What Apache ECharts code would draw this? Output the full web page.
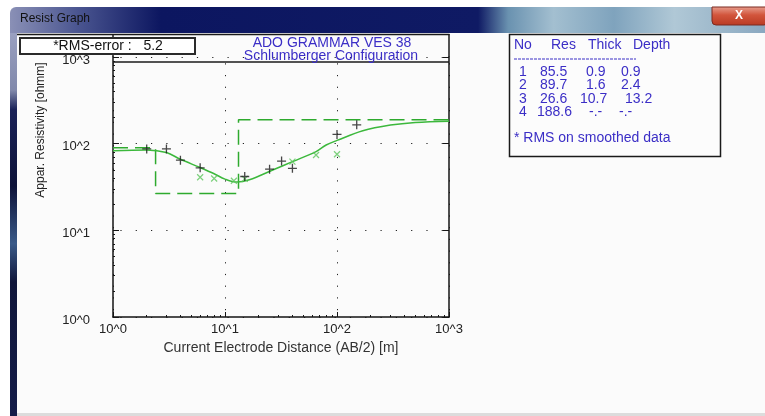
<!DOCTYPE html>
<html>
<head>
<meta charset="utf-8">
<title>Resist Graph</title>
<script src="https://cdn.jsdelivr.net/npm/echarts@6/dist/echarts.min.js"></script>
<style>
  html, body { margin: 0; padding: 0; background: #ffffff; }
  #chart { width: 765px; height: 416px; }
</style>
</head>
<body>
<div id="chart"></div>
<script>
// ---- sounding data (VES 38, Schlumberger) ----
const obsAB  = [2, 3, 4, 6, 15, 25, 32, 40, 100, 150];          // field points, AB/2 [m]
const obsRho = [87, 87, 64.5, 52.6, 41.8, 50.8, 63, 52, 128, 165]; // apparent resistivity [ohmm]

const smAB  = [6, 8, 12, 15, 40, 65, 100];                       // smoothed data, AB/2 [m]
const smRho = [41, 39.6, 37.3, 39.3, 62, 74, 75.5];

// computed response of the layered model
const curveAB  = [1, 2, 3, 4, 6, 8, 10, 12.8, 16.5, 27, 40, 65, 80, 100, 170, 300, 500, 1000];
const curveRho = [83, 84.7, 79, 66, 53, 45, 39, 36, 38.3, 50, 62, 81, 96.6, 109, 141, 164, 176, 182];

// layered model
const layerNo    = [1, 2, 3, 4];
const layerRes   = [85.5, 89.7, 26.6, 188.6];
const layerThick = [0.9, 1.6, 10.7, null];
const layerDepth = [0.9, 2.4, 13.2, null];
const rmsError   = 5.2;

// axis ticks
const decadeValues = [1, 10, 100, 1000];
const decadeLabels = ['10^0', '10^1', '10^2', '10^3'];
const minorValues  = [2, 3, 4, 5, 6, 7, 8, 9, 20, 30, 40, 50, 60, 70, 80, 90, 200, 300, 400, 500, 600, 700, 800, 900];

const titleLines = ['ADO GRAMMAR VES 38', 'Schlumberger Configuration'];
const xName = 'Current Electrode Distance (AB/2) [m]';
const yName = 'Appar. Resistivity [ohmm]';

const FONT = '"Liberation Sans", Arial, sans-serif';
const BLUE = '#3b2ec6';
const X_MIN = 1, X_MAX = 1000;

function decadeLabel(v) {
  const i = decadeValues.findIndex(d => Math.abs(d - v) / d < 1e-6);
  return i >= 0 ? decadeLabels[i] : '';
}
// y labels sit a little below their tick
function decadeLabelLow(v) {
  const t = decadeLabel(v);
  return t ? '{v|' + t + '}' : '';
}

// step outline of the model: one horizontal run per layer, clipped to the axis range
function modelSteps() {
  const pts = [];
  let top = 0;
  for (let i = 0; i < layerRes.length; i++) {
    const bottom = layerDepth[i] == null ? X_MAX : layerDepth[i];
    if (bottom > X_MIN) {
      pts.push([Math.max(top, X_MIN), layerRes[i]]);
      pts.push([Math.min(bottom, X_MAX), layerRes[i]]);
    }
    top = bottom;
  }
  return pts;
}

const zip = (a, b) => a.map((v, i) => [v, b[i]]);
const fmt = v => v == null ? '-.-' : String(v);

// ---- window chrome and text panels ----
const graphics = [
  // title bar
  { type: 'rect', z: -20, shape: { x: 10, y: 7, width: 755, height: 26, r: [6, 0, 0, 0] },
    style: { fill: new echarts.graphic.LinearGradient(0, 0, 1, 0, [
      { offset: 0, color: '#8a90b6' }, { offset: 0.09, color: '#4a5590' },
      { offset: 0.2, color: '#0c1660' }, { offset: 0.62, color: '#0f1a64' },
      { offset: 0.66, color: '#6a92b0' }, { offset: 0.72, color: '#a3bfd0' },
      { offset: 0.8, color: '#7fa3bd' }, { offset: 0.88, color: '#b0c8d6' },
      { offset: 1, color: '#8aa8c0' }]) } },
  { type: 'text', z: -19, style: { x: 20, y: 19, text: 'Resist Graph', font: '12px ' + FONT, fill: '#111', verticalAlign: 'middle' } },
  // close button
  { type: 'rect', z: -18, shape: { x: 712, y: 7, width: 56, height: 18, r: [0, 0, 4, 4] },
    style: { fill: new echarts.graphic.LinearGradient(0, 0, 0, 1, [
      { offset: 0, color: '#e8a090' }, { offset: 0.45, color: '#d2553c' }, { offset: 1, color: '#b93a22' }]),
      stroke: '#7a2a20', lineWidth: 1 } },
  { type: 'text', z: -17, style: { x: 739, y: 16, text: 'X', font: 'bold 12px ' + FONT, fill: '#ffffff', align: 'center', verticalAlign: 'middle' } },
  // left frame
  { type: 'rect', z: -20, shape: { x: 10, y: 33, width: 7, height: 383 },
    style: { fill: new echarts.graphic.LinearGradient(0, 0, 0, 1, [
      { offset: 0, color: '#9aa0c0' }, { offset: 0.15, color: '#8088aa' }, { offset: 0.2, color: '#1a2258' },
      { offset: 0.4, color: '#0d1238' }, { offset: 0.55, color: '#3a5a88' }, { offset: 0.65, color: '#10163a' },
      { offset: 1, color: '#141c48' }]) } },
  // client area
  { type: 'rect', z: -20, shape: { x: 17, y: 33, width: 748, height: 380 }, style: { fill: '#fbfbfb' } },
  { type: 'rect', z: -20, shape: { x: 17, y: 413, width: 748, height: 3 }, style: { fill: '#dcdcdc' } },

  // chart panel frame
  { type: 'line', z: -6, shape: { x1: 17, y1: 34.5, x2: 449.5, y2: 34.5 }, style: { stroke: '#1a1a1a', lineWidth: 1.5 } },
  { type: 'line', z: -6, shape: { x1: 113, y1: 34, x2: 113, y2: 57 }, style: { stroke: '#1a1a1a', lineWidth: 1.5 } },
  { type: 'line', z: -6, shape: { x1: 449, y1: 34, x2: 449, y2: 57 }, style: { stroke: '#1a1a1a', lineWidth: 1.5 } },
  { type: 'line', z: 5, shape: { x1: 113, y1: 62, x2: 449, y2: 62 }, style: { stroke: '#1a1a1a', lineWidth: 1.5 } },

  // RMS box
  { type: 'rect', z: -4, shape: { x: 20, y: 38, width: 175, height: 16 }, style: { fill: '#ffffff', stroke: '#2a2a2a', lineWidth: 2 } },
  { type: 'text', z: -3, style: { x: 108, y: 46.5, text: '*RMS-error :   ' + rmsError.toFixed(1), font: '14px ' + FONT, fill: '#111', align: 'center', verticalAlign: 'middle' } },

  // plot title
  { type: 'text', z: 7, style: { x: 332, y: 43, text: titleLines[0], font: '14px ' + FONT, fill: BLUE, align: 'center', verticalAlign: 'middle' } },
  { type: 'text', z: 7, style: { x: 331, y: 56, text: titleLines[1], font: '14px ' + FONT, fill: BLUE, align: 'center', verticalAlign: 'middle' } },

  // y axis title
  { type: 'text', z: 7, x: 41, y: 130, rotation: Math.PI / 2,
    style: { x: 0, y: 0, text: yName, font: '12px ' + FONT, fill: '#222', align: 'center', verticalAlign: 'middle' } },

  // model table box
  { type: 'rect', z: 5, shape: { x: 509.5, y: 34.5, width: 211, height: 122 }, style: { fill: '#fcfcfc', stroke: '#1a1a1a', lineWidth: 1.5 } }
];

// model table text
const tableFont = '14px ' + FONT;
const headerCols = [['No', 514], ['Res', 551], ['Thick', 588], ['Depth', 633]];
headerCols.forEach(([t, x]) => graphics.push({ type: 'text', z: 7,
  style: { x: x, y: 45, text: t, font: tableFont, fill: BLUE, verticalAlign: 'middle' } }));
graphics.push({ type: 'line', z: 7, shape: { x1: 514, y1: 59, x2: 636, y2: 59 },
  style: { stroke: BLUE, lineWidth: 1, lineDash: [3, 1] } });

const rowY = [72, 85.5, 99, 112.5];
const resX = [540, 540, 540, 537];
const thickX = [586, 586, 580, 589];
const depthX = [621, 621, 625, 619];
layerNo.forEach((n, i) => {
  const cells = [[String(n), 519], [fmt(layerRes[i]), resX[i]], [fmt(layerThick[i]), thickX[i]], [fmt(layerDepth[i]), depthX[i]]];
  cells.forEach(([t, x]) => graphics.push({ type: 'text', z: 7,
    style: { x: x, y: rowY[i], text: t, font: tableFont, fill: BLUE, verticalAlign: 'middle' } }));
});
graphics.push({ type: 'text', z: 7, style: { x: 514, y: 138, text: '* RMS on smoothed data', font: tableFont, fill: BLUE, verticalAlign: 'middle' } });

const plusSymbol = 'path://M5,0L5,10M0,5L10,5';
const crossSymbol = 'path://M0,0L10,10M10,0L0,10';

const option = {
  animation: false,
  backgroundColor: '#ffffff',
  graphic: { elements: graphics },
  grid: { left: 113, top: 57, width: 336, height: 260, show: false },
  xAxis: [
    {
      type: 'log', logBase: 10, min: X_MIN, max: X_MAX, position: 'bottom',
      axisLine: { show: true, lineStyle: { color: '#151515', width: 1.5 } },
      axisTick: { show: true, inside: true, length: 5, lineStyle: { color: '#151515', width: 1 } },
      axisLabel: { formatter: decadeLabel, margin: 6, fontSize: 13, color: '#222', fontFamily: FONT },
      splitLine: { show: true, lineStyle: { color: '#222', width: 1, type: [1.2, 10.5], dashOffset: 5.4 } },
      name: xName, nameLocation: 'middle', nameGap: 23,
      nameTextStyle: { fontSize: 14, color: '#333', fontFamily: FONT }
    },
    {
      type: 'log', logBase: 10, min: X_MIN, max: X_MAX, position: 'bottom', gridIndex: 0,
      axisLine: { show: false },
      axisTick: { show: true, inside: true, length: 2, customValues: minorValues, lineStyle: { color: '#151515', width: 1 } },
      axisLabel: { show: false }, splitLine: { show: false }
    }
  ],
  yAxis: [
    {
      type: 'log', logBase: 10, min: 1, max: 1000, position: 'left',
      axisLine: { show: true, lineStyle: { color: '#151515', width: 1.5 } },
      axisTick: { show: true, inside: true, length: 6, lineStyle: { color: '#151515', width: 1 } },
      axisLabel: {
        formatter: decadeLabelLow, margin: 23, fontSize: 13, color: '#222', fontFamily: FONT,
        rich: { v: { fontSize: 13, color: '#222', fontFamily: FONT, padding: [6, 0, 0, 0] } }
      },
      splitLine: { show: true, lineStyle: { color: '#222', width: 1, type: [1.2, 14.1], dashOffset: 7.9 } }
    },
    {
      type: 'log', logBase: 10, min: 1, max: 1000, position: 'left', gridIndex: 0,
      axisLine: { show: false },
      axisTick: { show: true, inside: true, length: 2, customValues: minorValues, lineStyle: { color: '#151515', width: 1 } },
      axisLabel: { show: false }, splitLine: { show: false }
    },
    {
      type: 'log', logBase: 10, min: 1, max: 1000, position: 'right', gridIndex: 0,
      axisLine: { show: true, lineStyle: { color: '#151515', width: 1.5 } },
      axisTick: { show: true, inside: true, length: 6, lineStyle: { color: '#151515', width: 1 } },
      axisLabel: { show: false }, splitLine: { show: false }
    }
  ],
  series: [
    {
      name: 'model', type: 'line', data: modelSteps(), symbol: 'none', z: 3,
      lineStyle: { color: '#2eaa2e', width: 1.5, type: [15, 7] }
    },
    {
      name: 'response', type: 'line', data: zip(curveAB, curveRho), symbol: 'none', smooth: 0.35, z: 4,
      lineStyle: { color: '#3cb83c', width: 1.5 }
    },
    {
      name: 'smoothed', type: 'scatter', data: zip(smAB, smRho), symbol: crossSymbol, symbolSize: 6, z: 5,
      itemStyle: { color: 'rgba(0,0,0,0)', borderColor: '#5cc65c', borderWidth: 1.2 }
    },
    {
      name: 'observed', type: 'scatter', data: zip(obsAB, obsRho), symbol: plusSymbol, symbolSize: 9, z: 6,
      itemStyle: { color: 'rgba(0,0,0,0)', borderColor: '#1a1a1a', borderWidth: 1.3 }
    }
  ]
};

const chart = echarts.init(document.getElementById('chart'), null, { renderer: 'canvas' });
chart.setOption(option);
</script>
</body>
</html>
